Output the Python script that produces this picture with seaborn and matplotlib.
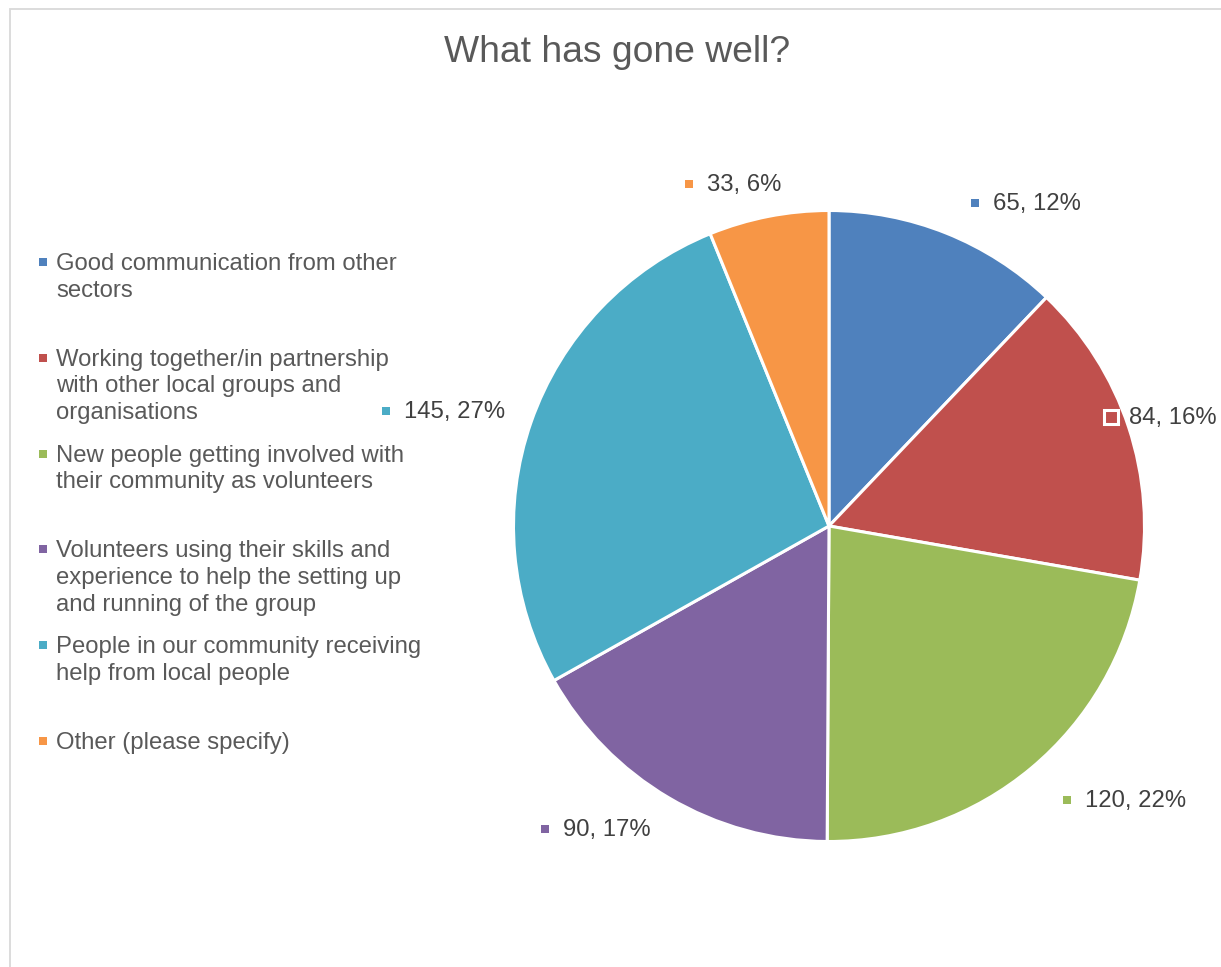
import matplotlib
matplotlib.use("Agg")
import matplotlib.pyplot as plt
from matplotlib.patches import Rectangle
from matplotlib.lines import Line2D
import seaborn as sns

# Survey responses: "What has gone well?"
categories = [
    "Good communication from other\nsectors",
    "Working together/in partnership\nwith other local groups and\norganisations",
    "New people getting involved with\ntheir community as volunteers",
    "Volunteers using their skills and\nexperience to help the setting up\nand running of the group",
    "People in our community receiving\nhelp from local people",
    "Other (please specify)",
]
counts = [65, 84, 120, 90, 145, 33]
colors = ["#4F81BD", "#C0504D", "#9BBB59", "#8064A2", "#4BACC6", "#F79646"]

# Data-label anchor points (marker centre) in pie units, radius = 1
label_anchor = [(0.463, 1.024), (0.894, 0.345), (0.754, -0.868),
                (-0.900, -0.960), (-1.404, 0.364), (-0.444, 1.084)]

sns.set_theme(style="white")
plt.rcParams["font.family"] = ["Liberation Sans", "DejaVu Sans"]

W, H = 1221, 967
fig = plt.figure(figsize=(W / 100, H / 100), dpi=100)
fig.patch.set_facecolor("white")

# Pie axes: centre at pixel (829, 526), radius 315.5 px
cx, cy, R = 829, 526, 315.5
xr, yr = 1.5, 1.3
left = (cx - xr * R) / W
bottom = (H - (cy + yr * R)) / H
ax = fig.add_axes([left, bottom, 2 * xr * R / W, 2 * yr * R / H])

total = sum(counts)
ax.pie(counts, colors=colors, startangle=90, counterclock=False, radius=1,
       wedgeprops=dict(edgecolor="white", linewidth=2.2))
ax.set_xlim(-xr, xr)
ax.set_ylim(-yr, yr)
ax.set_aspect("equal")
ax.axis("off")

label_color = "#404040"
for v, c, (lx, ly) in zip(counts, colors, label_anchor):
    pct = round(100 * v / total)
    if v == 84:
        ax.plot(lx, ly, marker="s", markersize=9.5, markerfacecolor=c,
                markeredgecolor="white", markeredgewidth=2.2, zorder=5,
                clip_on=False)
    else:
        ax.plot(lx, ly, marker="s", markersize=5.5, color=c,
                markeredgewidth=0, zorder=5, clip_on=False)
    ax.text(lx + 0.057, ly - 0.004, f"{v}, {pct}%", ha="left", va="center",
            fontsize=17.2, color=label_color, zorder=6)

# Title
fig.text(617 / W, 1 - 52 / H, "What has gone well?", ha="center", va="center",
         fontsize=26.8, color="#595959")

# Legend, entries evenly spaced
legend_color = "#595959"
y_first, step = 261, 95.8
for i, (lab, c) in enumerate(zip(categories, colors)):
    y = y_first + i * step
    fig.add_artist(Line2D([43 / W], [1 - (y + 1) / H], marker="s",
                          markersize=5.5, color=c, markeredgewidth=0,
                          transform=fig.transFigure))
    fig.text(56 / W, 1 - (y - 8) / H, lab, ha="left", va="top",
             fontsize=17.2, color=legend_color, linespacing=1.27)

# Chart area border
fig.add_artist(Rectangle((10 / W, -0.1), 1.2, 1 - 9 / H + 0.1,
                         transform=fig.transFigure, fill=False,
                         edgecolor="#D9D9D9", linewidth=1.3))

fig.savefig("out.png", dpi=100, facecolor="white")
